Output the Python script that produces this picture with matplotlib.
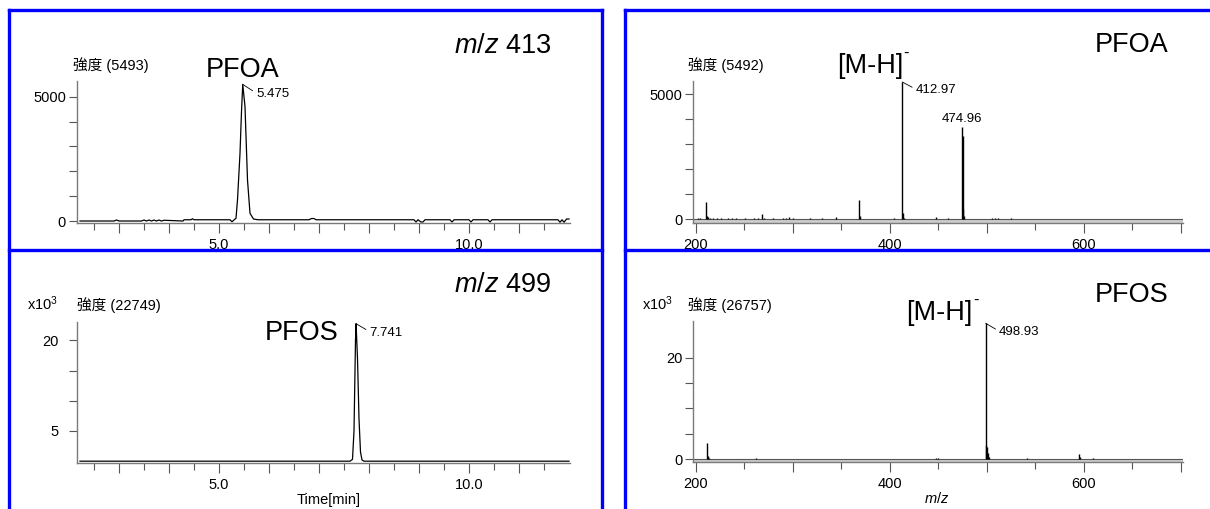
import numpy as np
import matplotlib
matplotlib.use('Agg')
import matplotlib.pyplot as plt
from matplotlib.lines import Line2D

plt.rcParams['font.family'] = ['Liberation Sans', 'Noto Sans CJK JP', 'DejaVu Sans']
plt.rcParams['mathtext.fontset'] = 'custom'
plt.rcParams['mathtext.rm'] = 'Liberation Sans'
plt.rcParams['mathtext.it'] = 'Liberation Sans:italic'

# --- chromatogram m/z 413 (PFOA), intensity in counts
pfoa_time = [2.22, 2.90, 2.95, 3.00, 3.45, 3.50, 3.55, 3.60, 3.65, 3.70,
             3.75, 3.80, 3.85, 3.90, 4.28, 4.30, 4.44, 4.47, 4.50, 5.22,
             5.26, 5.31, 5.34, 5.37, 5.42, 5.45, 5.475, 5.52, 5.57, 5.62,
             5.69, 5.78, 6.80, 6.85, 6.90, 6.94, 8.90, 8.94, 8.98, 9.04,
             9.08, 9.12, 9.62, 9.66, 9.70, 10.00, 10.04, 10.08, 10.38, 10.42,
             10.46, 11.78, 11.82, 11.86, 11.90, 11.95, 12.00]
pfoa_int = [0, 0, 40, 0, 0, 40, 0, 40, 0, 40,
            0, 40, 0, 30, 0, 50, 50, 90, 50, 50,
            -30, 60, 110, 850, 2720, 4400, 5493, 4600, 1650, 310,
            80, 50, 50, 100, 100, 50, 50, -40, 50, -40,
            -40, 50, 50, -40, 50, 50, -40, 50, 50, -40,
            50, 50, -50, 50, -50, 80, 80]

# --- chromatogram m/z 499 (PFOS), intensity x10^3
pfos_time = [2.22, 7.62, 7.67, 7.70, 7.73, 7.741, 7.77, 7.80, 7.83, 7.86, 7.90, 12.0]
pfos_int = [0, 0, 0.3, 5.0, 20.0, 22.749, 17.0, 7.0, 1.5, 0.2, 0, 0]

# --- mass spectrum PFOA, intensity in counts
pfoa_mz = [202, 205, 211.0, 212.0, 213.0, 215, 218, 222, 226, 229,
           233, 237, 242, 246, 251, 255, 260, 264, 268.9, 270.0,
           280, 290, 293, 296, 300, 318, 330, 345, 368.9, 369.9,
           390, 405, 412.97, 413.97, 415, 448, 460, 474.96, 475.4, 475.96,
           477, 505, 509, 512, 525]
pfoa_ms = [40, 60, 690, 120, 90, 70, 50, 40, 60, 30,
           50, 40, 60, 30, 40, 30, 50, 40, 230, 60,
           40, 50, 60, 80, 40, 40, 60, 80, 780, 120,
           30, 40, 5492, 250, 60, 90, 40, 3700, 3330, 420,
           120, 50, 60, 40, 50]

# --- mass spectrum PFOS, intensity x10^3
pfos_mz = [201, 212.0, 213.0, 214.0, 230, 245, 262, 284, 300, 315,
           330, 448, 450, 480, 498.93, 499.6, 500.0, 500.9, 502, 520,
           542, 560, 594.9, 596, 610, 665]
pfos_ms = [0.1, 3.3, 0.6, 0.3, 0.15, 0.1, 0.25, 0.1, 0.1, 0.15,
           0.1, 0.25, 0.3, 0.1, 26.757, 2.9, 2.5, 1.3, 0.5, 0.1,
           0.2, 0.1, 1.05, 0.5, 0.2, 0.1]

time_major = [3, 4, 5, 6, 7, 8, 9, 10, 11]
time_labels = ['', '', '5.0', '', '', '', '', '10.0', '']
time_minor = [2.5, 3.5, 4.5, 5.5, 6.5, 7.5, 8.5, 9.5, 10.5, 11.5]
mz_major = [200, 300, 400, 500, 600, 700]
mz_labels = ['200', '', '400', '', '600', '']
mz_minor = [250, 350, 450, 550, 650]

W, H = 1210, 509
fig = plt.figure(figsize=(W / 100, H / 100), dpi=100)


def rect(l, t, r, b):
    return [l / W, 1 - b / H, (r - l) / W, (b - t) / H]


def ftext(x, y, s, **kw):
    return fig.text(x / W, 1 - y / H, s, **kw)


def fline(xs, ys):
    fig.add_artist(Line2D([x / W for x in xs], [1 - y / H for y in ys],
                          transform=fig.transFigure, color='#0000ff', lw=2.4,
                          solid_capstyle='projecting'))


def style(ax, xlim, ylim, ypad):
    ax.set_xlim(xlim)
    ax.set_ylim(ylim)
    ax.patch.set_alpha(0)
    for s in ['top', 'right']:
        ax.spines[s].set_visible(False)
    for s in ['left', 'bottom']:
        ax.spines[s].set_color('#7a7a7a')
        ax.spines[s].set_linewidth(1.0)
    ax.tick_params(axis='y', which='both', direction='out', length=6, width=0.8,
                   color='#555555', labelsize=10.5, pad=ypad)
    ax.tick_params(axis='x', which='major', direction='out', length=7.5, width=0.8,
                   color='#555555', labelsize=10.5, pad=3)
    ax.tick_params(axis='x', which='minor', direction='out', length=5, width=0.8,
                   color='#555555')


def ion_label(x, y):
    # "[M-H]" with a small raised hyphen after it
    t = ftext(x, y, '[M-H]', fontsize=19.5, va='baseline')
    fig.canvas.draw()
    bb = t.get_window_extent()
    fig.text(bb.x1 / W + 0.5 / W, 1 - (y - 15) / H, '-', fontsize=12, va='baseline')


# blue frames
fline([9, 9], [10, 520])
fline([9, 602], [10, 10])
fline([602, 602], [10, 520])
fline([9, 602], [250, 250])
fline([625, 625], [10, 520])
fline([625, 1220], [10, 10])
fline([625, 1220], [250, 250])

leader = dict(arrowstyle='-', color='black', lw=0.6, shrinkA=0.5, shrinkB=0, relpos=(0, 0.6))

# top left: chromatogram PFOA
ax1 = fig.add_axes(rect(77, 81, 570, 223))
ax1.plot(pfoa_time, pfoa_int, color='black', lw=0.9)
style(ax1, (2.16, 12.02), (-80, 5630), 2)
ax1.set_xticks(time_major, time_labels)
ax1.set_xticks(time_minor, minor=True)
ax1.set_yticks([0, 1000, 2000, 3000, 4000, 5000], ['0', '', '', '', '', '5000'])
ax1.annotate('5.475', xy=(5.475, 5493), xytext=(9.5, -7), textcoords='offset points',
             ha='left', va='center', fontsize=9.5, arrowprops=leader)

# top right: spectrum PFOA
ax2 = fig.add_axes(rect(693, 81, 1183, 223))
ax2.axhspan(-150, 0, color='#cccccc', lw=0)
ax2.axhline(0, color='#555555', lw=0.8)
ax2.vlines(pfoa_mz, 0, pfoa_ms, color='black', lw=1.0)
style(ax2, (197.3, 702.4), (-150, 5530), 1.5)
ax2.set_xticks(mz_major, mz_labels)
ax2.set_xticks(mz_minor, minor=True)
ax2.set_yticks([0, 1000, 2000, 3000, 4000, 5000], ['0', '', '', '', '', '5000'])
ax2.annotate('412.97', xy=(412.97, 5492), xytext=(9.6, -6), textcoords='offset points',
             ha='left', va='center', fontsize=9.5, arrowprops=leader)
ax2.annotate('474.96', xy=(474.96, 3700), xytext=(0, 1.5), textcoords='offset points',
             ha='center', va='bottom', fontsize=9.5)

# bottom left: chromatogram PFOS
ax3 = fig.add_axes(rect(77, 322, 570, 463))
ax3.plot(pfos_time, pfos_int, color='black', lw=0.9)
style(ax3, (2.16, 12.02), (-0.3, 23.03), 7)
ax3.set_xticks(time_major, time_labels)
ax3.set_xticks(time_minor, minor=True)
ax3.set_yticks([5, 10, 15, 20], ['5', '', '', '20'])
ax3.annotate('7.741', xy=(7.741, 22.749), xytext=(9.6, -6.5), textcoords='offset points',
             ha='left', va='center', fontsize=9.5, arrowprops=leader)

# bottom right: spectrum PFOS
ax4 = fig.add_axes(rect(693, 321, 1183, 462))
ax4.axhspan(-0.53, 0, color='#cccccc', lw=0)
ax4.axhline(0, color='#555555', lw=0.8)
ax4.vlines(pfos_mz, 0, pfos_ms, color='black', lw=1.0)
style(ax4, (197.3, 702.4), (-0.53, 27.2), 1.5)
ax4.set_xticks(mz_major, mz_labels)
ax4.set_xticks(mz_minor, minor=True)
ax4.set_yticks([0, 5, 10, 15, 20], ['0', '', '', '', '20'])
ax4.annotate('498.93', xy=(498.93, 26.757), xytext=(9.6, -6.5), textcoords='offset points',
             ha='left', va='center', fontsize=9.5, arrowprops=leader)

# labels
big = 19.5
small = 10.5
ftext(73, 70, '強度 (5493)', fontsize=small, va='baseline')
ftext(242.5, 77, 'PFOA', fontsize=big, ha='center', va='baseline')
ftext(551, 53, r'$m/z$ 413', fontsize=big, ha='right', va='baseline')

ftext(688, 70, '強度 (5492)', fontsize=small, va='baseline')
ion_label(837, 73)
ftext(1131.5, 51.7, 'PFOA', fontsize=big, ha='center', va='baseline')

ftext(27, 310, r'x10$^{3}$', fontsize=small, va='baseline')
ftext(77, 310, '強度 (22749)', fontsize=small, va='baseline')
ftext(301.5, 340, 'PFOS', fontsize=big, ha='center', va='baseline')
ftext(551, 291.7, r'$m/z$ 499', fontsize=big, ha='right', va='baseline')
ftext(328.6, 504, 'Time[min]', fontsize=small, ha='center', va='baseline')

ftext(642, 310, r'x10$^{3}$', fontsize=small, va='baseline')
ftext(688, 310, '強度 (26757)', fontsize=small, va='baseline')
ion_label(906.5, 320)
ftext(1131.5, 301.7, 'PFOS', fontsize=big, ha='center', va='baseline')
ftext(937, 503, r'$m/z$', fontsize=small, ha='center', va='baseline')

fig.savefig('out.png', dpi=100)
